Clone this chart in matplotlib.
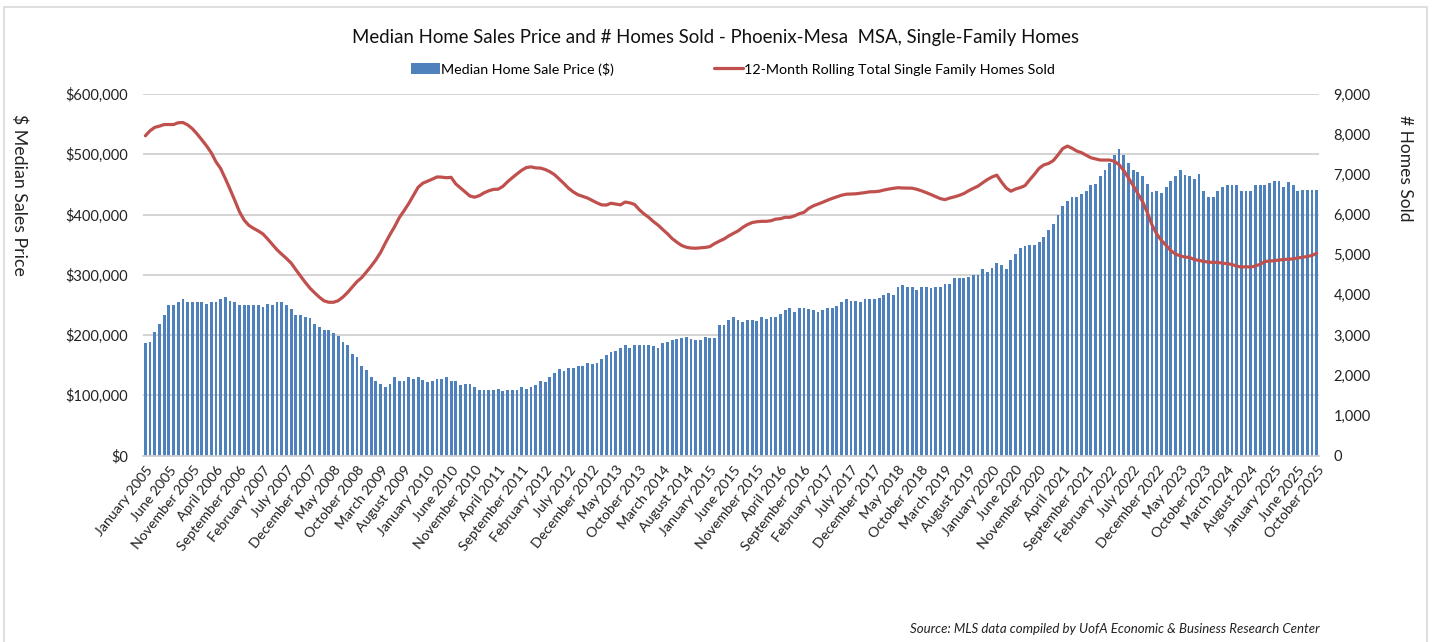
import matplotlib
matplotlib.use("Agg")
import matplotlib.pyplot as plt
from matplotlib.ticker import FuncFormatter, FixedLocator
from matplotlib.patches import Rectangle

# ---------------- data ----------------
# Median home sale price, thousands of $ (monthly, Jan 2005 - Oct 2025)
median_price_k = [
    186, 189, 205, 218, 233, 249, 250, 254, 259, 255,
    254, 254, 254, 252, 254, 255, 259, 263, 257, 254,
    249, 249, 249, 249, 249, 246, 252, 249, 254, 254,
    249, 243, 233, 233, 230, 228, 218, 213, 209, 209,
    203, 199, 189, 184, 169, 163, 149, 142, 130, 124,
    119, 114, 119, 130, 124, 124, 130, 127, 130, 126,
    122, 124, 127,
    127, 130, 124, 124, 117, 119, 119, 113, 108, 108,
    108, 108, 110, 107, 108, 108, 108, 113, 111, 114,
    117, 124, 122, 130, 137, 143, 140, 145, 145, 149,
    149, 154, 152, 154, 160, 167, 171, 174, 179, 184,
    179, 184, 184, 183, 184, 181, 179, 186, 189, 191,
    194, 195, 196, 193, 192, 191, 196, 195, 195, 217,
    217, 225,
    230, 225, 221, 225, 225, 223, 230, 227, 230, 230,
    235, 241, 244, 238, 244, 244, 243, 242, 239, 241,
    244, 244, 248, 254, 259, 257, 257, 254, 259, 259,
    259, 262, 267, 269, 267, 279, 283, 279, 279, 275,
    279, 279, 278, 279, 279, 284, 284, 294, 294, 294,
    297, 299, 299, 309, 305, 312, 319, 317, 310, 325,
    334, 344,
    347, 349, 349, 354, 363, 374, 384, 399, 414, 423,
    429, 429, 434, 439, 449, 450, 464, 474, 486, 498,
    509, 499, 485, 474, 470, 464, 450, 438, 439, 435,
    445, 455, 464, 474, 465, 464, 459, 468, 439, 429,
    429, 439, 445, 449, 449, 449, 439, 439, 439, 449,
    449, 449, 452, 455, 455, 445, 454, 449, 439, 441,
    441, 441, 441,
]

# 12-month rolling total of single-family homes sold
homes_sold_12m = [
    7960, 8085, 8170, 8200, 8240, 8240, 8240, 8285, 8290, 8230,
    8135, 8005, 7860, 7710, 7540, 7315, 7145, 6895, 6630, 6355,
    6070, 5860, 5730, 5655, 5590, 5515, 5390, 5255, 5120, 5010,
    4905, 4790, 4625, 4465, 4310, 4165, 4050, 3940, 3850, 3815,
    3815, 3855, 3945, 4060, 4195, 4330, 4430, 4570, 4715, 4870,
    5055, 5285, 5500, 5700, 5925, 6095, 6275, 6480, 6680, 6780,
    6830, 6880, 6935, 6930, 6915, 6925, 6760, 6660, 6560, 6460,
    6430, 6470, 6540, 6590, 6625, 6630, 6700, 6815, 6915, 7010,
    7100, 7170, 7185, 7160, 7156, 7120, 7065, 6990, 6880, 6770,
    6650, 6560, 6490, 6450, 6410, 6350, 6290, 6240, 6235, 6280,
    6260, 6240, 6310, 6290, 6250, 6120, 6015, 5930, 5825, 5735,
    5625, 5520, 5400, 5310, 5230, 5185, 5165, 5160, 5170, 5180,
    5200, 5275, 5335, 5390, 5465, 5530, 5590, 5680, 5750, 5800,
    5820, 5830, 5830, 5845, 5885, 5895, 5930, 5930, 5965, 6020,
    6053, 6150, 6215, 6260, 6305, 6355, 6400, 6440, 6480, 6505,
    6510, 6515, 6530, 6545, 6565, 6567, 6580, 6609, 6632, 6652,
    6667, 6660, 6658, 6655, 6628, 6590, 6545, 6497, 6445, 6395,
    6370, 6410, 6440, 6475, 6522, 6590, 6650, 6705, 6790, 6870,
    6935, 6980, 6810, 6660, 6580, 6635, 6670, 6720, 6865, 7000,
    7150, 7235, 7270, 7340, 7480, 7640, 7703, 7650, 7580, 7540,
    7475, 7413, 7385, 7356, 7355, 7355, 7325, 7240, 7095, 6910,
    6720, 6520, 6318, 6050, 5740, 5515, 5355, 5230, 5100, 5015,
    4970, 4940, 4930, 4880, 4855, 4835, 4812, 4809, 4809, 4784,
    4778, 4755, 4715, 4690, 4700, 4690, 4720, 4760, 4830, 4842,
    4850, 4867, 4880, 4888, 4895, 4918, 4937, 4955, 4980, 5035,
]

tick_positions = list(range(0, 250, 5)) + [249]
tick_labels = [
    "January 2005", "June 2005", "November 2005", "April 2006", "September 2006",
    "February 2007", "July 2007", "December 2007", "May 2008", "October 2008",
    "March 2009", "August 2009", "January 2010", "June 2010", "November 2010",
    "April 2011", "September 2011", "February 2012", "July 2012", "December 2012",
    "May 2013", "October 2013", "March 2014", "August 2014", "January 2015",
    "June 2015", "November 2015", "April 2016", "September 2016", "February 2017",
    "July 2017", "December 2017", "May 2018", "October 2018", "March 2019",
    "August 2019", "January 2020", "June 2020", "November 2020", "April 2021",
    "September 2021", "February 2022", "July 2022", "December 2022", "May 2023",
    "October 2023", "March 2024", "August 2024", "January 2025", "June 2025",
    "October 2025",
]

bar_label = "Median Home Sale Price ($)"
line_label = "12-Month Rolling Total Single Family Homes Sold"

# ---------------- figure ----------------
FONT = ["Lato", "DejaVu Sans"]
plt.rcParams["font.family"] = FONT
W, H = 1436, 642
fig = plt.figure(figsize=(W / 100, H / 100), dpi=100)
fig.patch.set_facecolor("white")

# light border of the chart area
fig.add_artist(Rectangle((4 / W, -0.01), 1423 / W, (H - 7) / H + 0.01,
                         transform=fig.transFigure, fill=False,
                         edgecolor="#d9d9d9", lw=1.2))

ax = fig.add_axes([143 / W, 1 - 455.5 / H, (1319 - 143) / W, (455.5 - 94) / H])
ax2 = ax.twinx()

x = list(range(len(median_price_k)))
ax.bar(x, median_price_k, width=0.6, color="#4F81BD", zorder=2, label=bar_label)
ax2.plot(x, homes_sold_12m, color="#C0504D", lw=2.3, zorder=3, label=line_label,
         solid_capstyle="round")

ax.set_xlim(-0.5, len(x) - 0.5)
ax.set_ylim(0, 600)
ax2.set_ylim(0, 9000)
ax.set_yticks(range(0, 601, 100))
ax2.set_yticks(range(0, 9001, 1000))
ax.yaxis.set_major_formatter(FuncFormatter(lambda v, p: "${:,.0f}".format(v * 1000)))
ax2.yaxis.set_major_formatter(FuncFormatter(lambda v, p: "{:,.0f}".format(v)))

ax.grid(axis="y", color="#d0d0d0", lw=1.3, zorder=0)
ax.set_axisbelow(True)
for a in (ax, ax2):
    for s in a.spines.values():
        s.set_visible(False)
ax.spines["bottom"].set_visible(True)
ax.spines["bottom"].set_color("#d0d0d0")
ax.spines["bottom"].set_linewidth(1.3)

ax.tick_params(axis="y", length=0, labelsize=10.5, pad=10.5, labelcolor="#222222")
ax2.tick_params(axis="y", length=0, labelsize=10.5, pad=10.5, labelcolor="#222222")
ax.xaxis.set_major_locator(FixedLocator(tick_positions))
ax.set_xticklabels(tick_labels, rotation=52, ha="right", rotation_mode="anchor",
                   fontsize=10.2, color="#222222")
ax.tick_params(axis="x", length=0, pad=6)

# title and legend
fig.text(715 / W, 1 - 38 / H, "Median Home Sales Price and # Homes Sold - Phoenix-Mesa  MSA, Single-Family Homes",
         ha="center", va="center", fontsize=13.4, color="#111111")
h1, l1 = ax.get_legend_handles_labels()
h2, l2 = ax2.get_legend_handles_labels()
fig.legend(h1 + h2, l1 + l2, loc="center", bbox_to_anchor=(733 / W, 1 - 69 / H),
           ncol=2, frameon=False, fontsize=10.3, handlelength=2.0, handletextpad=0.1,
           columnspacing=7.0, handleheight=0.8)

# axis titles
fig.text(19 / W, 1 - 195 / H, "$ Median Sales Price", rotation=270, ha="center", va="center",
         fontsize=12.8, color="#222222")
fig.text(1405 / W, 1 - 168 / H, "# Homes Sold", rotation=270, ha="center", va="center",
         fontsize=12.5, color="#222222")

# source
fig.text(1320 / W, 1 - 629 / H, "Source: MLS data compiled by UofA Economic & Business Research Center",
         ha="right", va="center", fontsize=9.5, style="italic", color="#222222")

fig.savefig("out.png", dpi=100, facecolor="white")
